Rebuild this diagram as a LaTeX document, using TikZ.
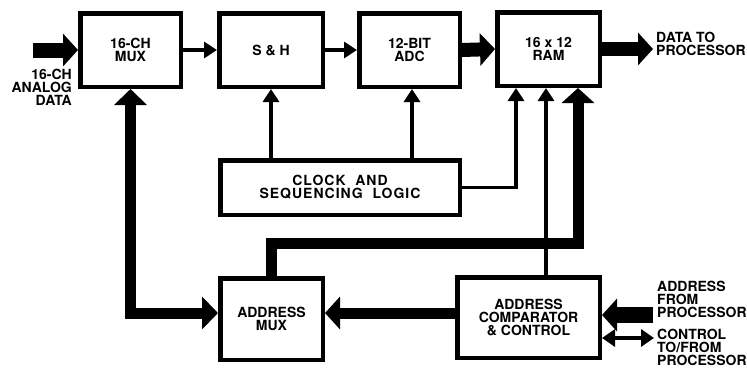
\documentclass[tikz,border=0pt]{standalone}
\usepackage{fontspec}
\setmainfont{TeX Gyre Heros}
\usetikzlibrary{arrows.meta}
\begin{document}
\begin{tikzpicture}[x=1pt,y=-1pt,
  every node/.style={font=\fontsize{14}{13}\selectfont\bfseries},
  blk/.style={draw,line width=4.5pt,inner sep=0pt,outer sep=2.25pt,align=center},
  thinarr/.style={line width=3.5pt,-{Triangle[length=13pt,width=16pt]}},
  dblthin/.style={line width=3.5pt,{Triangle[length=13pt,width=17pt]}-{Triangle[length=13pt,width=17pt]}},
  thickarr/.style={line width=11pt,line join=miter,-{Triangle[length=15pt,width=32pt]}},
  dblthick/.style={line width=11pt,line join=miter,{Triangle[length=16pt,width=32pt]}-{Triangle[length=16pt,width=32pt]}},
  lbl/.style={inner sep=0pt,align=left,anchor=west}]
\useasboundingbox (0,0) rectangle (747,370);
% blocks
\node[blk,minimum width=100.5pt,minimum height=73.5pt] (mux) at (130.5,50) {16-CH\\MUX};
\node[blk,minimum width=103.5pt,minimum height=73.5pt] (sh) at (271,50) {S \& H};
\node[blk,minimum width=100.5pt,minimum height=73.5pt] (adc) at (409.5,50) {12-BIT\\ADC};
\node[blk,minimum width=102.5pt,minimum height=73.5pt] (ram) at (548.5,49) {16 x 12\\RAM};
\node[blk,minimum width=239.5pt,minimum height=54.5pt] (clock) at (340,187.5)
  {\addfontfeature{LetterSpace=7}CLOCK\ \ AND\\\addfontfeature{LetterSpace=7}SEQUENCING\ \ LOGIC};
\node[blk,minimum width=102.5pt,minimum height=81.5pt] (amux) at (271.5,319) {ADDRESS\\MUX};
\node[blk,minimum width=142.5pt,minimum height=80.5pt] (comp) at (528.5,317.5) {ADDRESS\\COMPARATOR\\\& CONTROL};
% helper coordinates
\coordinate (in) at (33,50);
\coordinate (out) at (653,49);
\coordinate (yA) at (0,313);
\coordinate (xadc) at (412,0);
\coordinate (xc1) at (516,0);
\coordinate (xc2) at (546,0);
\coordinate (xc3) at (578,0);
\coordinate (yB) at (0,243);
\coordinate (afp) at (653,315);
\coordinate (ctl) at (654,338);
\coordinate (yF) at (0,315);
\coordinate (yG) at (0,338);
% top chain
\draw[thickarr,line width=15pt] (in) -- (mux.west);
\draw[thinarr] (mux.east) -- (sh.west);
\draw[thinarr] (sh.east) -- (adc.west);
\draw[thickarr,line width=14pt] (adc.east) -- (ram.west);
\draw[thickarr,line width=14pt] (ram.east) -- (out);
% clock lines
\draw[thinarr] (clock.north -| sh.south) -- (sh.south);
\draw[thinarr] (clock.north -| xadc) -- (adc.south -| xadc);
\draw[thinarr] (clock.east) -| (ram.south -| xc1);
\draw[thinarr] (comp.north -| xc2) -- (ram.south -| xc2);
% address paths
\draw[dblthick] (mux.south) -- (mux.south |- yA) -- (amux.west |- yA);
\draw[thickarr] (amux.north) |- (yB -| xc3) -- (ram.south -| xc3);
\draw[thickarr] (comp.west |- yA) -- (amux.east |- yA);
\draw[thickarr,line width=16pt] (afp) -- (comp.east |- yF);
\draw[dblthin] (ctl) -- (comp.east |- yG);
% labels
\node[inner sep=0pt,align=right,anchor=north east] (lin) at (72,69) {16-CH\\ANALOG\\DATA};
\node[lbl,anchor=north west] (lout) at (656,32) {DATA TO\\PROCESSOR};
\node[lbl,anchor=north west] (laddr) at (657,281) {ADDRESS\\FROM\\PROCESSOR};
\node[lbl,anchor=north west] (lctl) at (657,329) {CONTROL\\TO/FROM\\PROCESSOR};
\end{tikzpicture}
\end{document}
